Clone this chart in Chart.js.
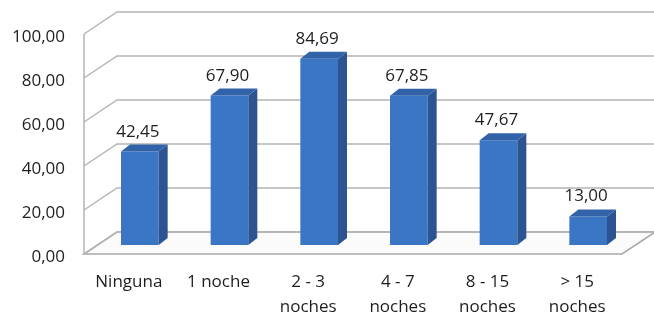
<!DOCTYPE html>
<html>
<head>
<meta charset="utf-8">
<script src="https://cdn.jsdelivr.net/npm/chart.js@4"></script>
<style>
  html, body { margin: 0; padding: 0; background: #fff; }
  #wrap { width: 654px; height: 315px; }
</style>
</head>
<body>
<div id="wrap"><canvas id="myChart" width="654" height="315"></canvas></div>
<script>
// datos
const categorias = ['Ninguna', '1 noche', ['2 - 3', 'noches'], ['4 - 7', 'noches'], ['8 - 15', 'noches'], ['> 15', 'noches']];
const valores = [42.45, 67.90, 84.69, 67.85, 47.67, 13.00];

// perspectiva del "3D"
const pared = { dx: 33, dy: -22 };    // fondo del grafico
const barraDesp = { dx: 11, dy: -9 }; // la barra se apoya a mitad del suelo
const barraProf = { dx: 9, dy: -7 };  // grosor de la barra

const fmt = v => v.toFixed(2).replace('.', ',');

Chart.defaults.font.family = "'Open Sans', sans-serif";
Chart.defaults.font.size = 17;
Chart.defaults.color = '#1e1e1e';

// degradado suave en la cara frontal de cada barra
function caraFrontal(c) {
    const bar = c.chart.getDatasetMeta(0).data[c.dataIndex];
    if (!bar || !bar.width) return '#3a76c4';
    const g = c.chart.ctx.createLinearGradient(bar.x - bar.width / 2, 0, bar.x + bar.width / 2, 0);
    g.addColorStop(0, '#336dbb');
    g.addColorStop(0.5, '#3d7ccb');
    g.addColorStop(1, '#346fbe');
    return g;
}

const fondo3d = {
    id: 'fondo3d',
    beforeDatasetsDraw(chart) {
        const { ctx, chartArea: a, scales: { y } } = chart;
        ctx.save();
        // suelo
        ctx.beginPath();
        ctx.moveTo(a.left, a.bottom);
        ctx.lineTo(a.right, a.bottom);
        ctx.lineTo(a.right + pared.dx, a.bottom + pared.dy);
        ctx.lineTo(a.left + pared.dx, a.bottom + pared.dy);
        ctx.closePath();
        ctx.fillStyle = '#fbfbfb';
        ctx.fill();
        ctx.strokeStyle = '#a9a9a9';
        ctx.lineWidth = 1.6;
        ctx.stroke();
        // lineas de division en pared lateral y fondo
        ctx.strokeStyle = '#b4b4b4';
        ctx.lineWidth = 1.5;
        y.ticks.forEach(t => {
            const py = y.getPixelForValue(t.value);
            ctx.beginPath();
            ctx.moveTo(a.left, py);
            ctx.lineTo(a.left + pared.dx, py + pared.dy);
            ctx.lineTo(a.right + pared.dx + 5, py + pared.dy);
            ctx.stroke();
        });
        // arista frontal izquierda
        ctx.beginPath();
        ctx.moveTo(a.left, y.getPixelForValue(y.max));
        ctx.lineTo(a.left, a.bottom);
        ctx.stroke();
        ctx.restore();

        // las barras se dibujan desplazadas hacia el fondo
        ctx.save();
        ctx.translate(barraDesp.dx, barraDesp.dy);
    },
    afterDatasetsDraw(chart) {
        const { ctx } = chart;
        const meta = chart.getDatasetMeta(0);
        meta.data.forEach((bar, i) => {
            const { x, y, base, width } = bar.getProps(['x', 'y', 'base', 'width'], true);
            const l = x - width / 2, r = x + width / 2;
            // cara lateral
            ctx.beginPath();
            ctx.moveTo(r, y);
            ctx.lineTo(r + barraProf.dx, y + barraProf.dy);
            ctx.lineTo(r + barraProf.dx, base + barraProf.dy);
            ctx.lineTo(r, base);
            ctx.closePath();
            ctx.fillStyle = '#2c5493';
            ctx.fill();
            // cara superior
            ctx.beginPath();
            ctx.moveTo(l, y);
            ctx.lineTo(l + barraProf.dx, y + barraProf.dy);
            ctx.lineTo(r + barraProf.dx, y + barraProf.dy);
            ctx.lineTo(r, y);
            ctx.closePath();
            ctx.fillStyle = '#3263a9';
            ctx.fill();
            // etiqueta de valor
            ctx.fillStyle = '#1e1e1e';
            ctx.font = "17px 'Open Sans', sans-serif";
            ctx.textAlign = 'center';
            ctx.textBaseline = 'alphabetic';
            ctx.fillText(fmt(valores[i]), x - 2, y - 15);
        });
        ctx.restore();
    }
};

const ctx = document.getElementById('myChart').getContext('2d');
const myChart = new Chart(ctx, {
    type: 'bar',
    data: {
        labels: categorias,
        datasets: [{
            data: valores,
            backgroundColor: caraFrontal,
            borderWidth: 0,
            categoryPercentage: 1,
            barPercentage: 0.42,
        }]
    },
    options: {
        responsive: false,
        animation: false,
        layout: { padding: { top: 34, right: 32, left: 0, bottom: 0 } },
        plugins: {
            legend: { display: false },
            tooltip: { enabled: false },
        },
        scales: {
            x: {
                grid: { display: false, drawTicks: false },
                border: { display: false },
                ticks: { maxRotation: 0, padding: 16, font: { lineHeight: 1.45 } },
                afterFit: s => { s.height = 61; },
            },
            y: {
                min: 0,
                max: 100,
                grid: { display: false, drawTicks: false },
                border: { display: false },
                ticks: { stepSize: 20, padding: 19, labelOffset: 3, callback: v => fmt(v) },
                afterFit: s => { s.width = 84; },
            }
        }
    },
    plugins: [fondo3d],
});
</script>
</body>
</html>
